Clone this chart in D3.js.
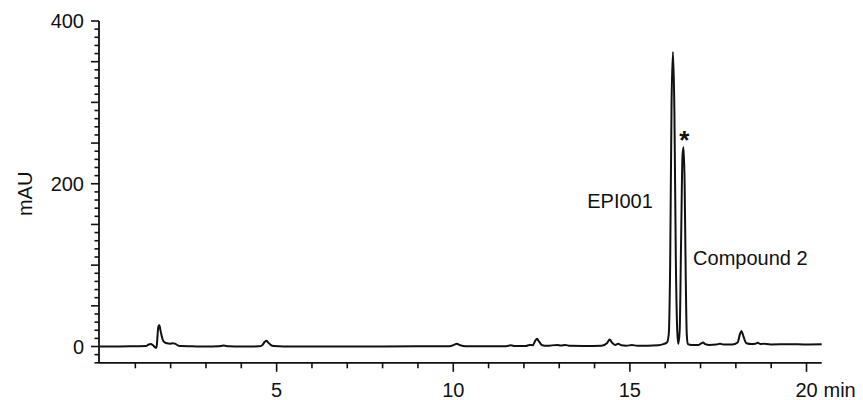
<!DOCTYPE html>
<html>
<head>
<meta charset="utf-8">
<script src="https://cdn.jsdelivr.net/npm/d3@7"></script>
<style>
  html, body { margin: 0; padding: 0; background: #fff; }
  svg { display: block; }
  text { font-family: "Liberation Sans", Arial, sans-serif; fill: #111; }
</style>
</head>
<body>
<svg id="chart" width="863" height="400"></svg>
<script>
// Retention time (min)
const timeMin = [
  0.00, 0.50, 1.00, 1.30, 1.38, 1.44, 1.50, 1.56, 1.60, 1.62, 1.65, 1.68, 1.72, 1.77, 1.83, 1.90, 1.98, 2.05, 2.12, 2.20,
  2.30, 2.60, 3.00, 3.35, 3.50, 3.65, 4.00, 4.50, 4.60, 4.66, 4.71, 4.76, 4.83, 4.92, 5.20, 6.00, 7.00, 8.00, 9.00, 9.90,
  10.02, 10.10, 10.20, 10.35, 11.00, 11.50, 11.63, 11.75, 12.05, 12.16, 12.25, 12.32, 12.37, 12.43, 12.52, 12.65, 12.94, 13.05, 13.17, 13.30,
  13.70, 14.20, 14.35, 14.43, 14.50, 14.58, 14.67, 14.76, 14.90, 15.06, 15.20, 15.50, 15.80, 15.95, 16.05, 16.10, 16.14, 16.18, 16.22, 16.26,
  16.30, 16.34, 16.37, 16.41, 16.45, 16.49, 16.52, 16.55, 16.58, 16.61, 16.64, 16.75, 16.95, 17.02, 17.07, 17.13, 17.25, 17.45, 17.55, 17.65,
  17.90, 18.05, 18.12, 18.16, 18.21, 18.30, 18.45, 18.55, 18.62, 18.70, 18.80, 18.86, 19.00, 19.50, 20.00, 20.43
];
// Absorbance (mAU)
const absorbance = [
  0, 0, 0.3, 0.5, 2.5, 3, 1.5, -1, -1.5, 8, 24, 26, 18, 9, 5, 4, 3.5, 4, 3.5, 1.5,
  0.5, 0.3, 0, 0.3, 1.2, 0.3, 0, 0.2, 2, 5.5, 7, 5, 2, 0.5, 0, 0, 0, 0, 0.2, 0.3,
  2, 3.3, 1.5, 0.3, 0.2, 0.4, 1.5, 0.5, 0.6, 2, 1.5, 7, 9.5, 6, 1.5, 0.8, 2, 1.2, 2, 0.8,
  0.6, 1, 4, 8.5, 4.5, 2, 3.5, 1.5, 1, 1.8, 1, 1, 1.5, 3, 5, 15, 100, 300, 362, 290,
  110, 20, 3, 20, 130, 235, 245, 200, 90, 15, 3, 2, 2, 4, 5, 3, 2, 2.5, 3.5, 2.5,
  2.5, 5, 16, 19, 13, 4, 3, 3.5, 4.5, 3, 3.5, 3, 2.5, 2.8, 2.6, 2.8
];
const xTickLabels = [5, 10, 15, 20];
const yTickLabels = [0, 200, 400];
const peakLabels = ["EPI001", "Compound 2", "*"];

const svg = d3.select("#chart");

const x = d3.scaleLinear().domain([0, 20.43]).range([100, 821.7]);
const y = d3.scaleLinear().domain([-20, 400]).range([362.8, 21]);

// X axis (ticks every minute, labels at 5-min steps)
const xMinor = d3.range(1, 21).filter(v => !xTickLabels.includes(v));
const gx = svg.append("g").attr("transform", `translate(0,${y(-20)})`);
gx.append("line").attr("x1", x(0) - 1).attr("x2", x(20.43))
  .attr("stroke", "#111").attr("stroke-width", 1.8);
gx.selectAll("line.minor").data(xMinor).join("line").attr("class", "minor")
  .attr("x1", d => x(d)).attr("x2", d => x(d)).attr("y1", 0).attr("y2", 5.5)
  .attr("stroke", "#111").attr("stroke-width", 1.6);
gx.selectAll("line.major").data(xTickLabels).join("line").attr("class", "major")
  .attr("x1", d => x(d)).attr("x2", d => x(d)).attr("y1", 0).attr("y2", 9)
  .attr("stroke", "#111").attr("stroke-width", 1.6);
gx.selectAll("text").data(xTickLabels).join("text")
  .attr("x", d => x(d)).attr("y", 34).attr("text-anchor", "middle")
  .attr("font-size", 20).text(d => d);
gx.append("text").attr("x", x(20) + 17).attr("y", 34).attr("font-size", 20).text("min");

// Y axis
const yMajor = d3.range(0, 401, 50);
const yMinor = d3.range(-20, 401, 10).filter(v => v % 50 !== 0);
const gy = svg.append("g").attr("transform", `translate(${x(0) - 1},0)`);
gy.append("line").attr("y1", y(400)).attr("y2", y(-20))
  .attr("stroke", "#111").attr("stroke-width", 1.8);
gy.selectAll("line.minor").data(yMinor).join("line").attr("class", "minor")
  .attr("x1", -4.5).attr("x2", 0).attr("y1", d => y(d)).attr("y2", d => y(d))
  .attr("stroke", "#111").attr("stroke-width", 1.6);
gy.selectAll("line.major").data(yMajor).join("line").attr("class", "major")
  .attr("x1", -8).attr("x2", 0).attr("y1", d => y(d)).attr("y2", d => y(d))
  .attr("stroke", "#111").attr("stroke-width", 1.6);
gy.selectAll("text").data(yTickLabels).join("text")
  .attr("x", -15).attr("y", d => y(d)).attr("dy", "0.36em")
  .attr("text-anchor", "end").attr("font-size", 20).text(d => d);

svg.append("text")
  .attr("transform", `translate(32,${(y(400) + y(-20)) / 2 + 2}) rotate(-90)`)
  .attr("text-anchor", "middle").attr("font-size", 20).text("mAU");

// Chromatogram trace
const pts = timeMin.map((t, i) => [t, absorbance[i]]);
const line = d3.line().x(d => x(d[0])).y(d => y(d[1])).curve(d3.curveMonotoneX);
svg.append("path").datum(pts).attr("d", line)
  .attr("fill", "none").attr("stroke", "#111").attr("stroke-width", 2)
  .attr("stroke-linejoin", "round");

// Peak annotations
svg.append("text").attr("x", x(15.65)).attr("y", y(170)).attr("text-anchor", "end")
  .attr("font-size", 20).text(peakLabels[0]);
svg.append("text").attr("x", x(16.79)).attr("y", y(100)).attr("text-anchor", "start")
  .attr("font-size", 20).text(peakLabels[1]);
svg.append("text").attr("x", x(16.54)).attr("y", y(243)).attr("text-anchor", "middle")
  .attr("font-size", 26).attr("font-weight", "bold").text(peakLabels[2]);
</script>
</body>
</html>
